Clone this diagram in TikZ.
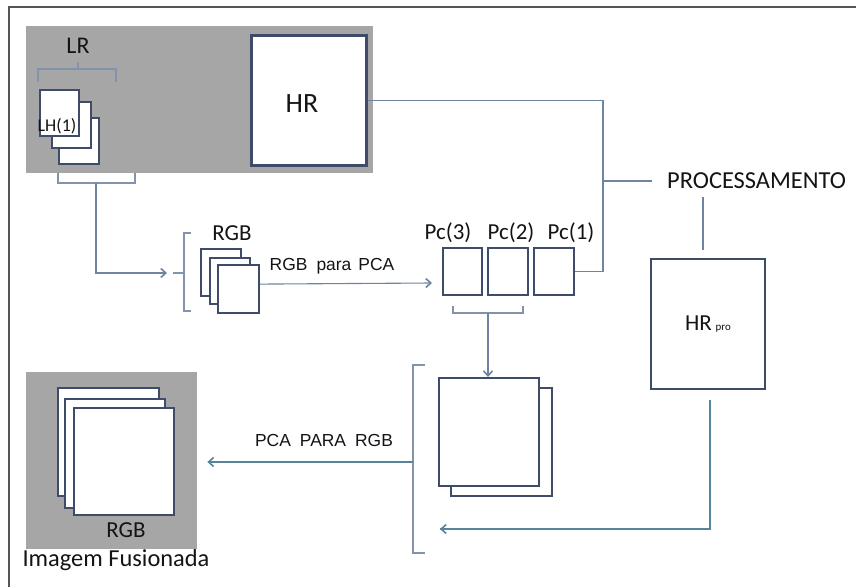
\documentclass[tikz,border=0pt]{standalone}
\usepackage{fontspec}
\setmainfont{Carlito}
\newfontfamily\arialf{Liberation Sans}
\usetikzlibrary{arrows.meta}
\definecolor{panelgray}{HTML}{A6A6A6}
\definecolor{boxc}{HTML}{3F4C69}
\definecolor{connc}{HTML}{6E84A0}
\definecolor{brc}{HTML}{8294AC}
\definecolor{framec}{HTML}{555555}
\definecolor{txtc}{HTML}{141414}
\tikzset{
  panel/.style={fill=panelgray, draw=none, inner sep=0pt, anchor=north west},
  sqbox/.style={draw=boxc, line width=2.2bp, fill=white, inner sep=0pt, anchor=north west},
  conn/.style={draw=connc, line width=1.1bp},
  brk/.style={draw=brc, line width=1.1bp},
  tip/.style={-{Straight Barb[length=5bp,width=9bp,line width=1.6bp]}},
  lbl/.style={text=txtc, inner sep=0pt},
}
\begin{document}
\begin{tikzpicture}[x=1bp,y=-1bp]
\useasboundingbox (0,0) rectangle (856,587);
\fill[white] (0,0) rectangle (856,587);
% frame
\draw[framec, line width=1.3bp] (9,587) -- (9,7) -- (856,7);

% top-left panel
\node[panel, minimum width=347bp, minimum height=147bp] (lrpanel) at (26,26) {};
\node[lbl, font=\fontsize{24}{24}\selectfont] (lrlabel) at (78,46) {LR};
\draw[brk] (38,82) -- (38,69) -- (116,69) -- (116,82);
\draw[brk] (78,69) -- (78,62);
\node[sqbox, minimum width=40bp, minimum height=46bp] (lhc) at (58,117) {};
\node[sqbox, minimum width=39bp, minimum height=46bp] (lhb) at (51,101) {};
\node[sqbox, minimum width=39bp, minimum height=46bp] (lha) at (39,89) {};
\node[lbl, font=\fontsize{18}{18}\selectfont] (lhlabel) at (57,126) {LH(1)};
\node[sqbox, line width=2.6bp, minimum width=115bp, minimum height=130bp] (hr) at (250,34) {};
\node[lbl, font=\fontsize{28}{28}\selectfont] (hrlabel) at (302,104) {HR};

% bracket below LR panel and arrow to RGB
\draw[brk] (58,173) -- (58,183) -- (135,183) -- (135,173);
\coordinate (lrb) at (96,183);
\coordinate (rgbin) at (167,273);
\draw[conn, tip] (lrb) |- (rgbin);

% RGB stack
\draw[brk] (191,233) -- (184,233) -- (184,311) -- (191,311);
\draw[brk] (184,273) -- (173,273);
\node[lbl, font=\fontsize{23}{23}\selectfont] (rgblabel) at (232,233) {RGB};
\node[sqbox, minimum width=40bp, minimum height=47bp] (rgba) at (200,248) {};
\node[sqbox, minimum width=40bp, minimum height=46bp] (rgbb) at (209,257) {};
\node[sqbox, minimum width=41bp, minimum height=48bp] (rgbc) at (217,264) {};
\node[lbl, font=\arialf\fontsize{17.5}{17.5}\selectfont] (rgbpca) at (332,266) {RGB\hspace{9bp}para\hspace{7bp}PCA};
\coordinate (pcin) at (432,283);
\draw[conn, tip] ([yshift=5bp]rgbc.east) -- (pcin);

% Pc squares
\node[sqbox, minimum width=39bp, minimum height=47bp] (pc3) at (442,247) {};
\node[sqbox, minimum width=40bp, minimum height=47bp] (pc2) at (487,247) {};
\node[sqbox, minimum width=40bp, minimum height=47bp] (pc1) at (533,247) {};
\node[lbl, font=\fontsize{23}{23}\selectfont] (pc3l) at (448,233) {Pc(3)};
\node[lbl, font=\fontsize{23}{23}\selectfont] (pc2l) at (511,233) {Pc(2)};
\node[lbl, font=\fontsize{23}{23}\selectfont] (pc1l) at (571,233) {Pc(1)};

% HR -> processing line
\coordinate (jx) at (603,0);
\draw[conn] (hr.east) -| (jx |- pc1.east) -- (pc1.east);
\node[lbl, font=\fontsize{24.5}{24.5}\selectfont, anchor=west] (proc) at (667,181) {PROCESSAMENTO};
\draw[conn] (jx |- proc.west) -- ([xshift=-15bp]proc.west);
\node[sqbox, minimum width=114bp, minimum height=130bp] (hrpro) at (650,258) {};
\node[lbl, font=\fontsize{23}{23}\selectfont] (hrprolabel) at (708,324) {HR\,{\fontsize{11}{11}\selectfont pro}};
\draw[conn] (703,197) -- (703,250);

% Pc bracket and arrow down
\draw[brk] (453,306) -- (453,313) -- (523,313) -- (523,306);
\coordinate (pcb) at (488,313);

% middle-right stack
\node[sqbox, minimum width=101bp, minimum height=108bp] (stb) at (450,387) {};
\node[sqbox, minimum width=100bp, minimum height=108bp] (sta) at (438,377) {};
\draw[conn, tip] (pcb) -- (pcb |- sta.north);

% return line from HR pro
\coordinate (ret) at (440,529);
\draw[conn, draw=connc!80!teal] (710,400) |- (ret);
\draw[conn, draw=connc!80!teal, tip] (460,529) -- (ret);

% big bracket
\draw[brk] (425,365) -- (413,365) -- (413,553) -- (425,553);
\coordinate (bigb) at (413,462);

% bottom-left fused panel
\node[panel, minimum width=171bp, minimum height=177bp] (fpanel) at (26,372) {};
\node[sqbox, minimum width=101bp, minimum height=108bp] (fa) at (57,387) {};
\node[sqbox, minimum width=100bp, minimum height=109bp] (fb) at (64,398) {};
\node[sqbox, minimum width=100bp, minimum height=107bp] (fc) at (73,407) {};
\node[lbl, font=\fontsize{23}{23}\selectfont] (frgb) at (126,530) {RGB};
\node[lbl, font=\fontsize{24.5}{24.5}\selectfont] (fused) at (116,560) {Imagem Fusionada};

\draw[conn, draw=connc!80!teal, tip] (bigb) -- ([xshift=10bp]fpanel.east |- bigb);
\node[lbl, font=\arialf\fontsize{17.5}{17.5}\selectfont] (pcargb) at (324,440) {PCA\hspace{9bp}PARA\hspace{9bp}RGB};
\end{tikzpicture}
\end{document}
